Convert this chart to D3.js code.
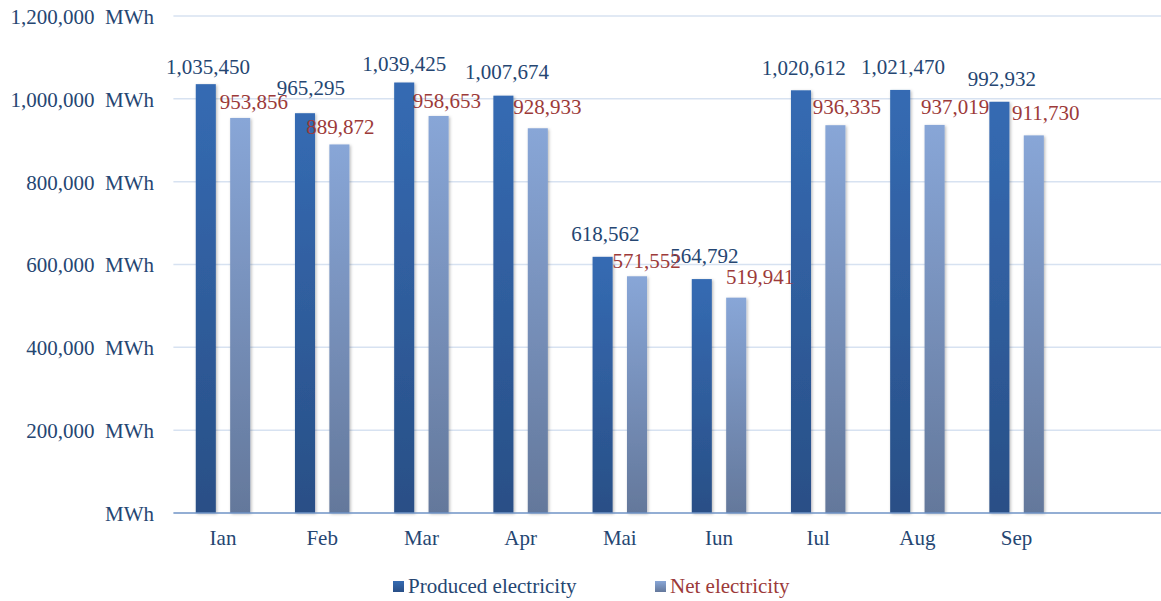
<!DOCTYPE html>
<html>
<head>
<meta charset="utf-8">
<script src="https://cdn.jsdelivr.net/npm/d3@7/dist/d3.min.js"></script>
<style>
  html, body { margin: 0; padding: 0; background: #fff; }
  svg { display: block; font-family: "Liberation Serif", "Times New Roman", serif; }
</style>
</head>
<body>
<svg id="chart" width="1161" height="601" font-family="Liberation Serif"></svg>
<script>
// Monthly electricity (MWh); the last slot is an empty month
const months = ["Ian", "Feb", "Mar", "Apr", "Mai", "Iun", "Iul", "Aug", "Sep", ""];
const seriesNames = ["Produced electricity", "Net electricity"];
const produced = [1035450, 965295, 1039425, 1007674, 618562, 564792, 1020612, 1021470, 992932];
const net = [953856, 889872, 958653, 928933, 571552, 519941, 936335, 937019, 911730];
const tickValues = [0, 200000, 400000, 600000, 800000, 1000000, 1200000];
const tickLabels = ["MWh", "200,000  MWh", "400,000  MWh", "600,000  MWh", "800,000  MWh", "1,000,000  MWh", "1,200,000  MWh"];

// Hand-placed nudges for the value labels (dx from bar centre, gap above bar top)
const producedLabelDx = [2.3, 5.8, 0, 3.5, 2.7, 2.5, 2.8, 2.8, 2.5];
const producedLabelGap = [10, 18, 12, 16.5, 16, 16, 15.7, 15.7, 16];
const netLabelDx = [13.7, 1, 8.2, 9.5, 9.7, 24, 11.5, 20.6, 12];
const netLabelGap = [9, 10, 8, 14, 8, 14, 11, 11, 15];

const svg = d3.select("#chart");
const plotLeft = 173.4, plotRight = 1165.4, plotTop = 16, plotBottom = 513;
const fontSize = 21;

const x = d3.scaleBand().domain(months).range([plotLeft, plotRight]).padding(0);
const xs = d3.scaleBand().domain(seriesNames).range([0, x.bandwidth()])
  .paddingInner(0.417).paddingOuter(0.65);
const y = d3.scaleLinear().domain([0, 1200000]).range([plotBottom, plotTop]);

const defs = svg.append("defs");
function grad(id, c0, c1) {
  const g = defs.append("linearGradient").attr("id", id)
    .attr("x1", 0).attr("y1", 0).attr("x2", 0).attr("y2", 1);
  g.append("stop").attr("offset", "0%").attr("stop-color", c0);
  g.append("stop").attr("offset", "100%").attr("stop-color", c1);
}
grad("gProduced", "#356bb3", "#294f86");
grad("gNet", "#88a6d7", "#64789b");
const f = defs.append("filter").attr("id", "shadow")
  .attr("x", "-30%").attr("y", "-10%").attr("width", "160%").attr("height", "120%");
f.append("feDropShadow").attr("dx", 1.2).attr("dy", 1).attr("stdDeviation", 1.4)
  .attr("flood-color", "#000").attr("flood-opacity", 0.28);

// Gridlines
svg.append("g").selectAll("line").data(tickValues.filter(v => v > 0)).join("line")
  .attr("x1", plotLeft).attr("x2", 1161)
  .attr("y1", d => y(d)).attr("y2", d => y(d))
  .attr("stroke", "#d7e2f1").attr("stroke-width", 1.5);

// Y axis labels
const yAxis = d3.axisLeft(y).tickValues(tickValues)
  .tickFormat((d, i) => tickLabels[i]).tickSize(0).tickPadding(0);
const gy = svg.append("g").attr("transform", "translate(154,0)").call(yAxis);
gy.attr("font-family", "Liberation Serif").attr("font-size", fontSize);
gy.select(".domain").remove();
gy.selectAll("text").attr("fill", "#254672").attr("dy", "0.35em").style("white-space", "pre");

// Bars
const series = [
  { name: seriesNames[0], values: produced, fill: "url(#gProduced)", label: "#254672",
    dx: producedLabelDx, gap: producedLabelGap },
  { name: seriesNames[1], values: net, fill: "url(#gNet)", label: "#9c3a39",
    dx: netLabelDx, gap: netLabelGap }
];
const fmt = d3.format(",");
series.forEach(s => {
  svg.append("g").selectAll("rect").data(s.values).join("rect")
    .attr("x", (d, i) => x(months[i]) + xs(s.name))
    .attr("width", xs.bandwidth())
    .attr("y", d => y(d))
    .attr("height", d => y(0) - y(d))
    .attr("fill", s.fill)
    .attr("filter", "url(#shadow)");
});

// X axis line and month labels
svg.append("line").attr("x1", plotLeft).attr("x2", 1161).attr("y1", plotBottom).attr("y2", plotBottom)
  .attr("stroke", "#6f93c6").attr("stroke-width", 1.6);
svg.append("g").selectAll("text").data(months).join("text")
  .attr("x", d => x(d) + x.bandwidth() / 2)
  .attr("y", 545)
  .attr("text-anchor", "middle")
  .attr("font-size", fontSize).attr("fill", "#254672")
  .text(d => d);

// Value labels
series.forEach(s => {
  svg.append("g").selectAll("text").data(s.values).join("text")
    .attr("x", (d, i) => x(months[i]) + xs(s.name) + xs.bandwidth() / 2 + s.dx[i])
    .attr("y", (d, i) => y(d) - s.gap[i])
    .attr("text-anchor", "middle")
    .attr("font-size", fontSize).attr("fill", s.label)
    .text(d => fmt(d));
});

// Legend
const legend = svg.append("g");
const legendX = [393, 655];
series.forEach((s, i) => {
  const g = legend.append("g").attr("transform", `translate(${legendX[i]},581)`);
  g.append("rect").attr("width", 11).attr("height", 11).attr("fill", s.fill);
  g.append("text").attr("x", 15).attr("y", 12).attr("font-size", fontSize)
    .attr("fill", s.label).text(s.name);
});
</script>
</body>
</html>
